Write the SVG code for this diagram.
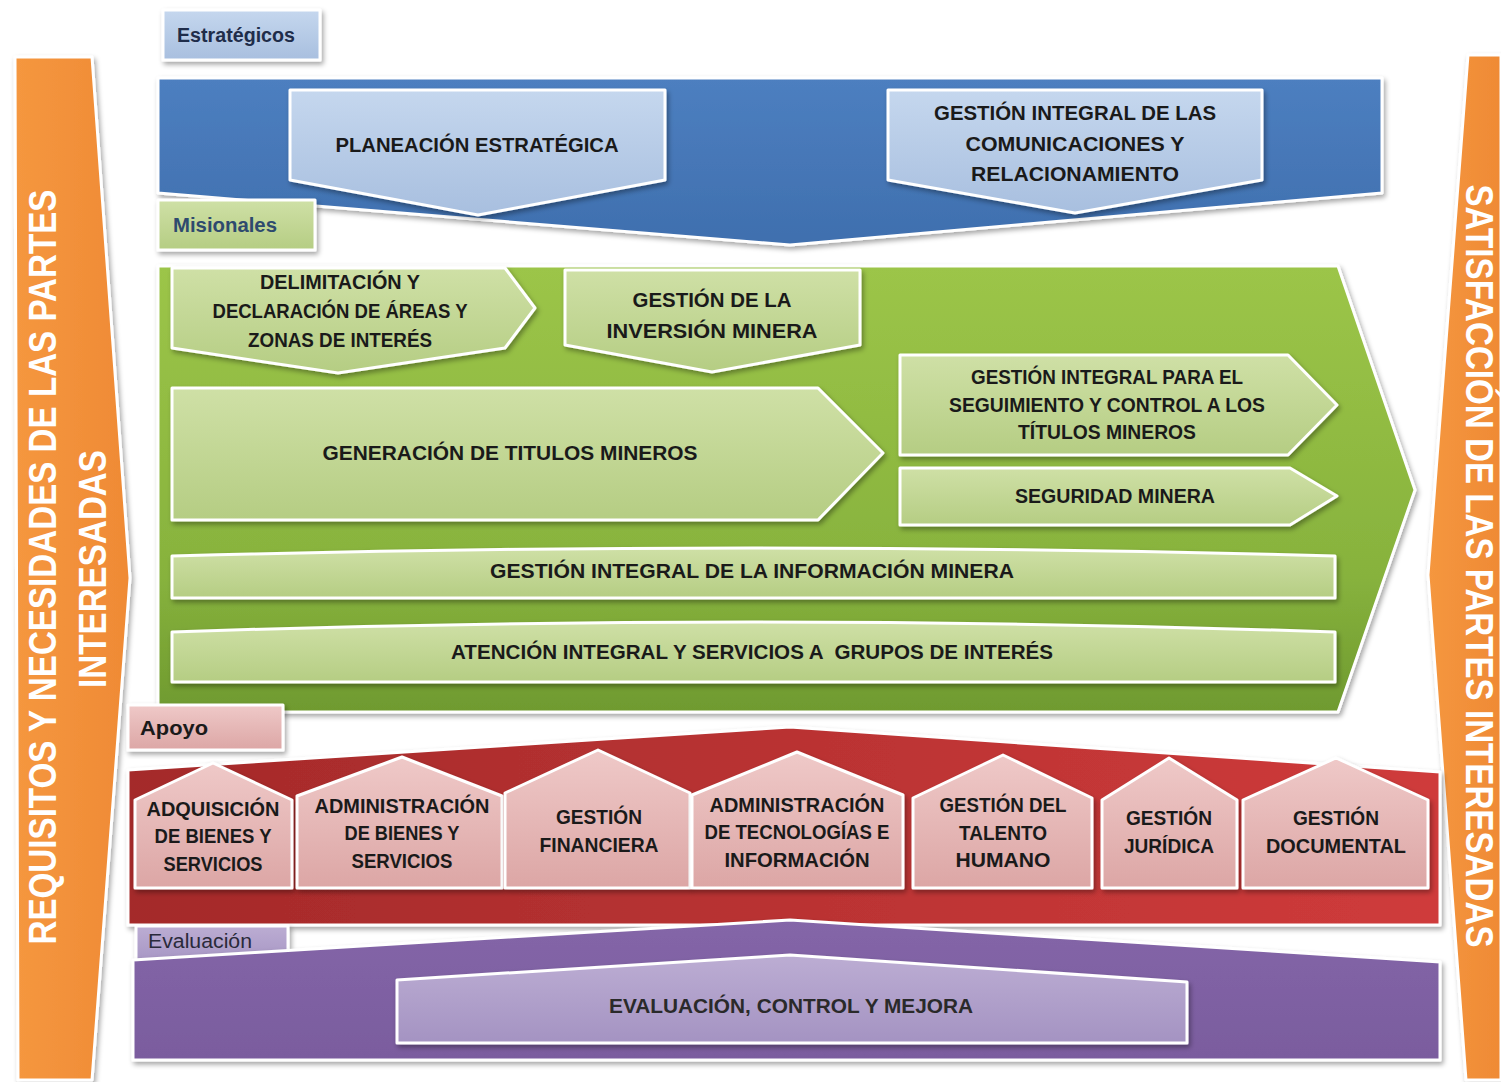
<svg xmlns="http://www.w3.org/2000/svg" width="1501" height="1082" viewBox="0 0 1501 1082">
<defs>
<filter id="sh" x="-10%" y="-10%" width="120%" height="130%"><feDropShadow dx="2" dy="3" stdDeviation="2.5" flood-color="#000" flood-opacity="0.35"/></filter>
<linearGradient id="gBlue" x1="0" y1="0" x2="0" y2="1"><stop offset="0" stop-color="#4d7fc0"/><stop offset="1" stop-color="#3f6fae"/></linearGradient>
<linearGradient id="gLBlue" x1="0" y1="0" x2="0" y2="1"><stop offset="0" stop-color="#c5d7ee"/><stop offset="1" stop-color="#a8bfdf"/></linearGradient>
<linearGradient id="gGreen" x1="0" y1="0" x2="0" y2="1"><stop offset="0" stop-color="#9cc548"/><stop offset="0.7" stop-color="#87b23d"/><stop offset="1" stop-color="#6f9a2f"/></linearGradient>
<linearGradient id="gLGreen" x1="0" y1="0" x2="0" y2="1"><stop offset="0" stop-color="#cfe0a6"/><stop offset="1" stop-color="#b5cd83"/></linearGradient>
<linearGradient id="gRed" x1="0" y1="0" x2="1" y2="0"><stop offset="0" stop-color="#a42a2a"/><stop offset="1" stop-color="#cf3b3b"/></linearGradient>
<linearGradient id="gPink" x1="0" y1="0" x2="0" y2="1"><stop offset="0" stop-color="#efc9c8"/><stop offset="1" stop-color="#dca6a5"/></linearGradient>
<linearGradient id="gPurple" x1="0" y1="0" x2="0" y2="1"><stop offset="0" stop-color="#8466a8"/><stop offset="1" stop-color="#7a5c9e"/></linearGradient>
<linearGradient id="gLav" x1="0" y1="0" x2="0" y2="1"><stop offset="0" stop-color="#bcadd3"/><stop offset="1" stop-color="#a493c2"/></linearGradient>
<linearGradient id="gOrange" x1="0" y1="0" x2="1" y2="0"><stop offset="0" stop-color="#f5973f"/><stop offset="1" stop-color="#ef8a35"/></linearGradient>
</defs>
<style>
.w{stroke:#fff;stroke-width:3;stroke-linejoin:round;filter:url(#sh)}
.t{font-family:"Liberation Sans",Arial,sans-serif;font-weight:bold;font-size:21px;fill:#1a1a1a;text-anchor:middle}
.lbl{font-family:"Liberation Sans",Arial,sans-serif;font-weight:bold;font-size:20px}
.side{font-family:"Liberation Sans",Arial,sans-serif;font-weight:bold;font-size:38px;fill:#fff;text-anchor:middle}
</style>
<rect width="1501" height="1082" fill="#fff"/>

<g id="left-bar">
<polygon class="w" points="15,57 92,57 130,578 92,1080 18,1080" fill="url(#gOrange)"/>
<text class="side" transform="translate(56,567) rotate(-90)" textLength="755" lengthAdjust="spacingAndGlyphs">REQUISITOS Y NECESIDADES DE LAS PARTES</text>
<text class="side" transform="translate(106,569) rotate(-90)" textLength="238" lengthAdjust="spacingAndGlyphs">INTERESADAS</text>
</g>

<g id="right-bar">
<polygon class="w" points="1468,55 1501,55 1501,1080 1466,1080 1428,575" fill="url(#gOrange)"/>
<text class="side" transform="translate(1466,566) rotate(90)" textLength="763" lengthAdjust="spacingAndGlyphs">SATISFACCIÓN DE LAS PARTES INTERESADAS</text>
</g>

<g id="estrategicos-label">
<rect class="w" x="163" y="10" width="157" height="50" fill="url(#gLBlue)"/>
<text class="lbl" x="177" y="42" fill="#1f2d4a" textLength="118" lengthAdjust="spacingAndGlyphs">Estratégicos</text>
</g>

<g id="estrategicos-band">
<polygon class="w" points="158,78 1382,78 1382,193 790,245 158,193" fill="url(#gBlue)"/>
</g>

<g id="planeacion">
<polygon class="w" points="290,90 665,90 665,180 478,215 290,180" fill="url(#gLBlue)"/>
<text class="t" x="477" y="152" textLength="283" lengthAdjust="spacingAndGlyphs">PLANEACIÓN ESTRATÉGICA</text>
</g>

<g id="comunicaciones">
<polygon class="w" points="888,90 1262,90 1262,180 1075,213 888,180" fill="url(#gLBlue)"/>
<text class="t" x="1075" y="120" textLength="282" lengthAdjust="spacingAndGlyphs">GESTIÓN INTEGRAL DE LAS</text>
<text class="t" x="1075" y="151" textLength="219" lengthAdjust="spacingAndGlyphs">COMUNICACIONES Y</text>
<text class="t" x="1075" y="181" textLength="208" lengthAdjust="spacingAndGlyphs">RELACIONAMIENTO</text>
</g>

<g id="misionales-label">
<rect class="w" x="158" y="200" width="157" height="50" fill="url(#gLGreen)"/>
<text class="lbl" x="173" y="232" fill="#2e4a6e" textLength="104" lengthAdjust="spacingAndGlyphs">Misionales</text>
</g>

<g id="misionales-band">
<polygon class="w" points="158,266 1338,266 1415,490 1338,712 158,712" fill="url(#gGreen)"/>
</g>

<g id="delimitacion">
<polygon class="w" points="172,268 505,268 535,308 505,348 338,373 172,348" fill="url(#gLGreen)"/>
<text class="t" x="340" y="289" textLength="160" lengthAdjust="spacingAndGlyphs">DELIMITACIÓN Y</text>
<text class="t" x="340" y="318" textLength="255" lengthAdjust="spacingAndGlyphs">DECLARACIÓN DE ÁREAS Y</text>
<text class="t" x="340" y="347" textLength="184" lengthAdjust="spacingAndGlyphs">ZONAS DE INTERÉS</text>
</g>

<g id="inversion">
<polygon class="w" points="565,270 860,270 860,345 712,372 565,345" fill="url(#gLGreen)"/>
<text class="t" x="712" y="307" textLength="159" lengthAdjust="spacingAndGlyphs">GESTIÓN DE LA</text>
<text class="t" x="712" y="338" textLength="211" lengthAdjust="spacingAndGlyphs">INVERSIÓN MINERA</text>
</g>

<g id="generacion">
<polygon class="w" points="172,388 818,388 883,453 818,520 172,520" fill="url(#gLGreen)"/>
<text class="t" x="510" y="460" textLength="375" lengthAdjust="spacingAndGlyphs">GENERACIÓN DE TITULOS MINEROS</text>
</g>

<g id="seguimiento">
<polygon class="w" points="900,355 1288,355 1337,405 1288,455 900,455" fill="url(#gLGreen)"/>
<text class="t" x="1107" y="384" style="font-size:20px" textLength="272" lengthAdjust="spacingAndGlyphs">GESTIÓN INTEGRAL PARA EL</text>
<text class="t" x="1107" y="412" style="font-size:20px" textLength="316" lengthAdjust="spacingAndGlyphs">SEGUIMIENTO Y CONTROL A LOS</text>
<text class="t" x="1107" y="439" style="font-size:20px" textLength="178" lengthAdjust="spacingAndGlyphs">TÍTULOS MINEROS</text>
</g>

<g id="seguridad">
<polygon class="w" points="900,468 1290,468 1337,496 1290,525 900,525" fill="url(#gLGreen)"/>
<text class="t" x="1115" y="503" style="font-size:20px" textLength="200" lengthAdjust="spacingAndGlyphs">SEGURIDAD MINERA</text>
</g>

<g id="informacion">
<path class="w" d="M172,556 Q752,540 1335,556 L1335,598 L172,598 Z" fill="url(#gLGreen)"/>
<text class="t" x="752" y="578" textLength="524" lengthAdjust="spacingAndGlyphs">GESTIÓN INTEGRAL DE LA INFORMACIÓN MINERA</text>
</g>

<g id="atencion">
<path class="w" d="M172,632 Q752,612 1335,632 L1335,682 L172,682 Z" fill="url(#gLGreen)"/>
<text class="t" x="752" y="659" xml:space="preserve" textLength="602" lengthAdjust="spacingAndGlyphs">ATENCIÓN INTEGRAL Y SERVICIOS A  GRUPOS DE INTERÉS</text>
</g>

<g id="apoyo-label">
<rect class="w" x="128" y="705" width="155" height="45" fill="url(#gPink)"/>
<text class="lbl" x="140" y="735" fill="#1a1a1a" textLength="68" lengthAdjust="spacingAndGlyphs">Apoyo</text>
</g>

<g id="apoyo-band">
<polygon class="w" points="128,770 790,727 1440,772 1440,925 128,925" fill="url(#gRed)"/>
</g>

<g id="adquisicion">
<polygon class="w" points="135,800 213,763 292,800 292,888 135,888" fill="url(#gPink)"/>
<text class="t" x="213" y="816" textLength="133" lengthAdjust="spacingAndGlyphs">ADQUISICIÓN</text>
<text class="t" x="213" y="843" textLength="117" lengthAdjust="spacingAndGlyphs">DE BIENES Y</text>
<text class="t" x="213" y="871" textLength="99" lengthAdjust="spacingAndGlyphs">SERVICIOS</text>
</g>

<g id="admin-bienes">
<polygon class="w" points="297,796 402,757 502,796 502,888 297,888" fill="url(#gPink)"/>
<text class="t" x="402" y="813" textLength="175" lengthAdjust="spacingAndGlyphs">ADMINISTRACIÓN</text>
<text class="t" x="402" y="840" textLength="115" lengthAdjust="spacingAndGlyphs">DE BIENES Y</text>
<text class="t" x="402" y="868" textLength="101" lengthAdjust="spacingAndGlyphs">SERVICIOS</text>
</g>

<g id="financiera">
<polygon class="w" points="505,793 598,750 690,793 690,888 505,888" fill="url(#gPink)"/>
<text class="t" x="599" y="824" textLength="86" lengthAdjust="spacingAndGlyphs">GESTIÓN</text>
<text class="t" x="599" y="852" textLength="119" lengthAdjust="spacingAndGlyphs">FINANCIERA</text>
</g>

<g id="tecnologias">
<polygon class="w" points="692,795 797,752 903,795 903,888 692,888" fill="url(#gPink)"/>
<text class="t" x="797" y="812" textLength="175" lengthAdjust="spacingAndGlyphs">ADMINISTRACIÓN</text>
<text class="t" x="797" y="839" textLength="185" lengthAdjust="spacingAndGlyphs">DE TECNOLOGÍAS E</text>
<text class="t" x="797" y="867" textLength="145" lengthAdjust="spacingAndGlyphs">INFORMACIÓN</text>
</g>

<g id="talento">
<polygon class="w" points="913,798 1003,755 1092,798 1092,888 913,888" fill="url(#gPink)"/>
<text class="t" x="1003" y="812" textLength="127" lengthAdjust="spacingAndGlyphs">GESTIÓN DEL</text>
<text class="t" x="1003" y="840" textLength="88" lengthAdjust="spacingAndGlyphs">TALENTO</text>
<text class="t" x="1003" y="867" textLength="95" lengthAdjust="spacingAndGlyphs">HUMANO</text>
</g>

<g id="juridica">
<polygon class="w" points="1102,800 1169,758 1237,800 1237,888 1102,888" fill="url(#gPink)"/>
<text class="t" x="1169" y="825" textLength="86" lengthAdjust="spacingAndGlyphs">GESTIÓN</text>
<text class="t" x="1169" y="853" textLength="90" lengthAdjust="spacingAndGlyphs">JURÍDICA</text>
</g>

<g id="documental">
<polygon class="w" points="1243,800 1336,758 1428,800 1428,888 1243,888" fill="url(#gPink)"/>
<text class="t" x="1336" y="825" textLength="86" lengthAdjust="spacingAndGlyphs">GESTIÓN</text>
<text class="t" x="1336" y="853" textLength="140" lengthAdjust="spacingAndGlyphs">DOCUMENTAL</text>
</g>

<g id="evaluacion-label">
<rect class="w" x="136" y="926" width="152" height="40" fill="url(#gLav)"/>
<text class="lbl" x="148" y="948" fill="#2a2a3a" style="font-weight:normal" textLength="104" lengthAdjust="spacingAndGlyphs">Evaluación</text>
</g>

<g id="evaluacion-band">
<polygon class="w" points="133,960 790,920 1440,962 1440,1060 133,1060" fill="url(#gPurple)"/>
</g>

<g id="control-mejora">
<polygon class="w" points="397,980 790,955 1187,982 1187,1043 397,1043" fill="url(#gLav)"/>
<text class="t" x="791" y="1013" style="fill:#2a2a2a" textLength="364" lengthAdjust="spacingAndGlyphs">EVALUACIÓN, CONTROL Y MEJORA</text>
</g>

<g id="connectors"></g>
</svg>
